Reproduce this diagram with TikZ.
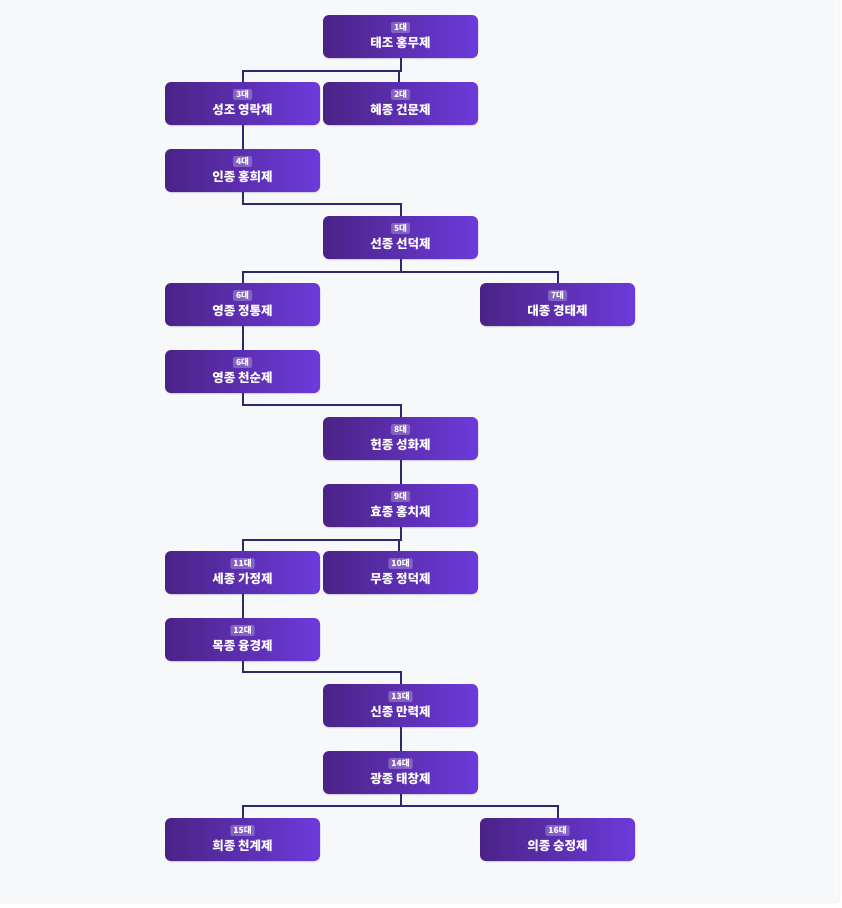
\documentclass[tikz,border=0pt]{standalone}
\usepackage{fontspec}
\setmainfont{Noto Sans CJK KR}
\usetikzlibrary{positioning,shadows}
\definecolor{gdark}{HTML}{4B2386}
\definecolor{glight}{HTML}{6C3BDB}
\definecolor{linecol}{HTML}{2B2A6B}
\definecolor{bgcol}{HTML}{F7F8FA}
\definecolor{edgecol}{HTML}{DFE3EA}

\tikzset{
  genbox/.style={rectangle, rounded corners=6pt, minimum width=155pt, minimum height=43pt,
    left color=gdark, right color=glight, draw=none,
    drop shadow={opacity=0.12, shadow xshift=0pt, shadow yshift=-1.5pt}},
  badge/.style={fill=white, fill opacity=0.25, text opacity=1, text=white, rounded corners=2pt,
    inner xsep=3pt, inner ysep=1.5pt, font=\bfseries\fontsize{8.5}{9}\selectfont},
  title/.style={text=white, inner sep=0pt, font=\bfseries\fontsize{12.5}{14}\selectfont},
  conn/.style={draw=linecol, line width=2pt},
}

% one emperor box: name, position, badge, title
\newcommand{\gen}[4]{%
  \node[genbox] (#1) at (#2) {};
  \node[badge] (#1-b) at ([yshift=9pt]#1.center) {#3};
  \node[title] (#1-t) at ([yshift=-6.5pt]#1.center) {#4};
}

\begin{document}
\begin{tikzpicture}[x=1pt, y=-1pt]
  \useasboundingbox (0,0) rectangle (842,908);
  \draw[fill=bgcol, draw=edgecol, rounded corners=6pt] (-10,-10) rectangle (840,903);

  \gen{g1}{400.5,36.5}{1대}{태조 홍무제}
  \gen{g3}{242.5,103.5}{3대}{성조 영락제}
  \gen{g2}{400.5,103.5}{2대}{혜종 건문제}
  \gen{g4}{242.5,170.5}{4대}{인종 홍희제}
  \gen{g5}{400.5,237.5}{5대}{선종 선덕제}
  \gen{g6a}{242.5,304.5}{6대}{영종 정통제}
  \gen{g7}{557.5,304.5}{7대}{대종 경태제}
  \gen{g6b}{242.5,371.5}{6대}{영종 천순제}
  \gen{g8}{400.5,438.5}{8대}{헌종 성화제}
  \gen{g9}{400.5,505.5}{9대}{효종 홍치제}
  \gen{g11}{242.5,572.5}{11대}{세종 가정제}
  \gen{g10}{400.5,572.5}{10대}{무종 정덕제}
  \gen{g12}{242.5,639.5}{12대}{목종 융경제}
  \gen{g13}{400.5,705.5}{13대}{신종 만력제}
  \gen{g14}{400.5,772.5}{14대}{광종 태창제}
  \gen{g15}{242.5,839.5}{15대}{희종 천계제}
  \gen{g16}{557.5,839.5}{16대}{의종 숭정제}

  \draw[conn] (g1.south) -- ++(0,13) -| (g3.north);
  \draw[conn] (g1.south) -- ++(0,13) -| ([xshift=-2pt]g2.north);
  \draw[conn] (g3.south) -- (g4.north);
  \draw[conn] (g4.south) -- ++(0,12) -| (g5.north);
  \draw[conn] (g5.south) -- ++(0,13) -| (g6a.north);
  \draw[conn] (g5.south) -- ++(0,13) -| (g7.north);
  \draw[conn] (g6a.south) -- (g6b.north);
  \draw[conn] (g6b.south) -- ++(0,12) -| (g8.north);
  \draw[conn] (g8.south) -- (g9.north);
  \draw[conn] (g9.south) -- ++(0,13) -| (g11.north);
  \draw[conn] (g9.south) -- ++(0,13) -| ([xshift=-2pt]g10.north);
  \draw[conn] (g11.south) -- (g12.north);
  \draw[conn] (g12.south) -- ++(0,11) -| (g13.north);
  \draw[conn] (g13.south) -- (g14.north);
  \draw[conn] (g14.south) -- ++(0,12) -| (g15.north);
  \draw[conn] (g14.south) -- ++(0,12) -| (g16.north);
\end{tikzpicture}
\end{document}
